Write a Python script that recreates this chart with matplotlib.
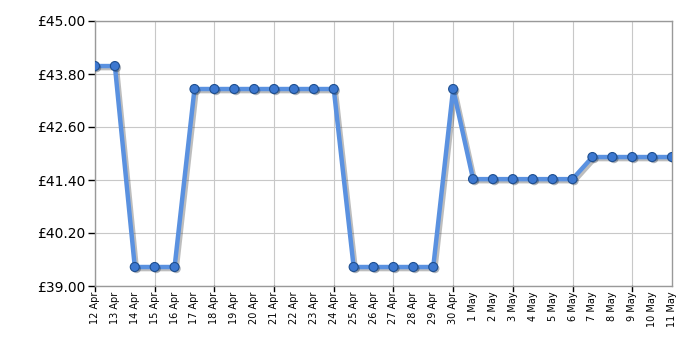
import matplotlib
matplotlib.use("Agg")
import matplotlib.pyplot as plt
import matplotlib.patheffects as pe

# price history, one point per day
dates = ["12 Apr", "13 Apr", "14 Apr", "15 Apr", "16 Apr", "17 Apr", "18 Apr",
         "19 Apr", "20 Apr", "21 Apr", "22 Apr", "23 Apr", "24 Apr", "25 Apr",
         "26 Apr", "27 Apr", "28 Apr", "29 Apr", "30 Apr", "1 May", "2 May",
         "3 May", "4 May", "5 May", "6 May", "7 May", "8 May", "9 May",
         "10 May", "11 May"]
prices = [43.98, 43.98, 39.43, 39.43, 39.43, 43.46, 43.46, 43.46, 43.46, 43.46,
          43.46, 43.46, 43.46, 39.43, 39.43, 39.43, 39.43, 39.43, 43.46, 41.42,
          41.42, 41.42, 41.42, 41.42, 41.42, 41.92, 41.92, 41.92, 41.92, 41.92]
y_ticks = [39.00, 40.20, 41.40, 42.60, 43.80, 45.00]

fig = plt.figure(figsize=(7, 3.5), dpi=100)
ax = fig.add_axes([95 / 700, 64 / 350, 577 / 700, 265 / 350])

x = list(range(len(dates)))
shadow = [pe.SimpleLineShadow(offset=(1.5, -1.5), shadow_color="#444444", alpha=0.35), pe.Normal()]
ax.plot(x, prices, color="#5a91e0", linewidth=3.2, zorder=3, path_effects=shadow)
ax.plot(x, prices, linestyle="none", marker="o", markersize=6.5,
        markerfacecolor="#3d78d0", markeredgecolor="#1f4f8f", markeredgewidth=0.8,
        zorder=4, path_effects=[pe.SimplePatchShadow(offset=(1.2, -1.2), alpha=0.35), pe.Normal()])

ax.set_xlim(0, len(dates) - 1)
ax.set_ylim(39.0, 45.0)
ax.set_yticks(y_ticks)
ax.set_yticklabels([f"£{v:.2f}" for v in y_ticks], fontsize=10)

ax.set_xticks(x)
ax.set_xticklabels(dates, rotation=90, fontsize=7)
ax.tick_params(axis="x", length=0, pad=4)
ax.tick_params(axis="y", length=5, width=1, color="black", pad=2)

# vertical grid every three days with outward tick marks
for i in range(0, len(dates), 3):
    ax.axvline(i, color="#c8c8c8", linewidth=0.8, zorder=1)
    ax.plot([i, i], [0, -0.02], transform=ax.get_xaxis_transform(), color="black",
            linewidth=1, clip_on=False)
ax.yaxis.grid(True, color="#c8c8c8", linewidth=0.8, zorder=1)
ax.set_axisbelow(True)

for s in ax.spines.values():
    s.set_color("#999999")
    s.set_linewidth(1)

fig.savefig("out.png", dpi=100)
